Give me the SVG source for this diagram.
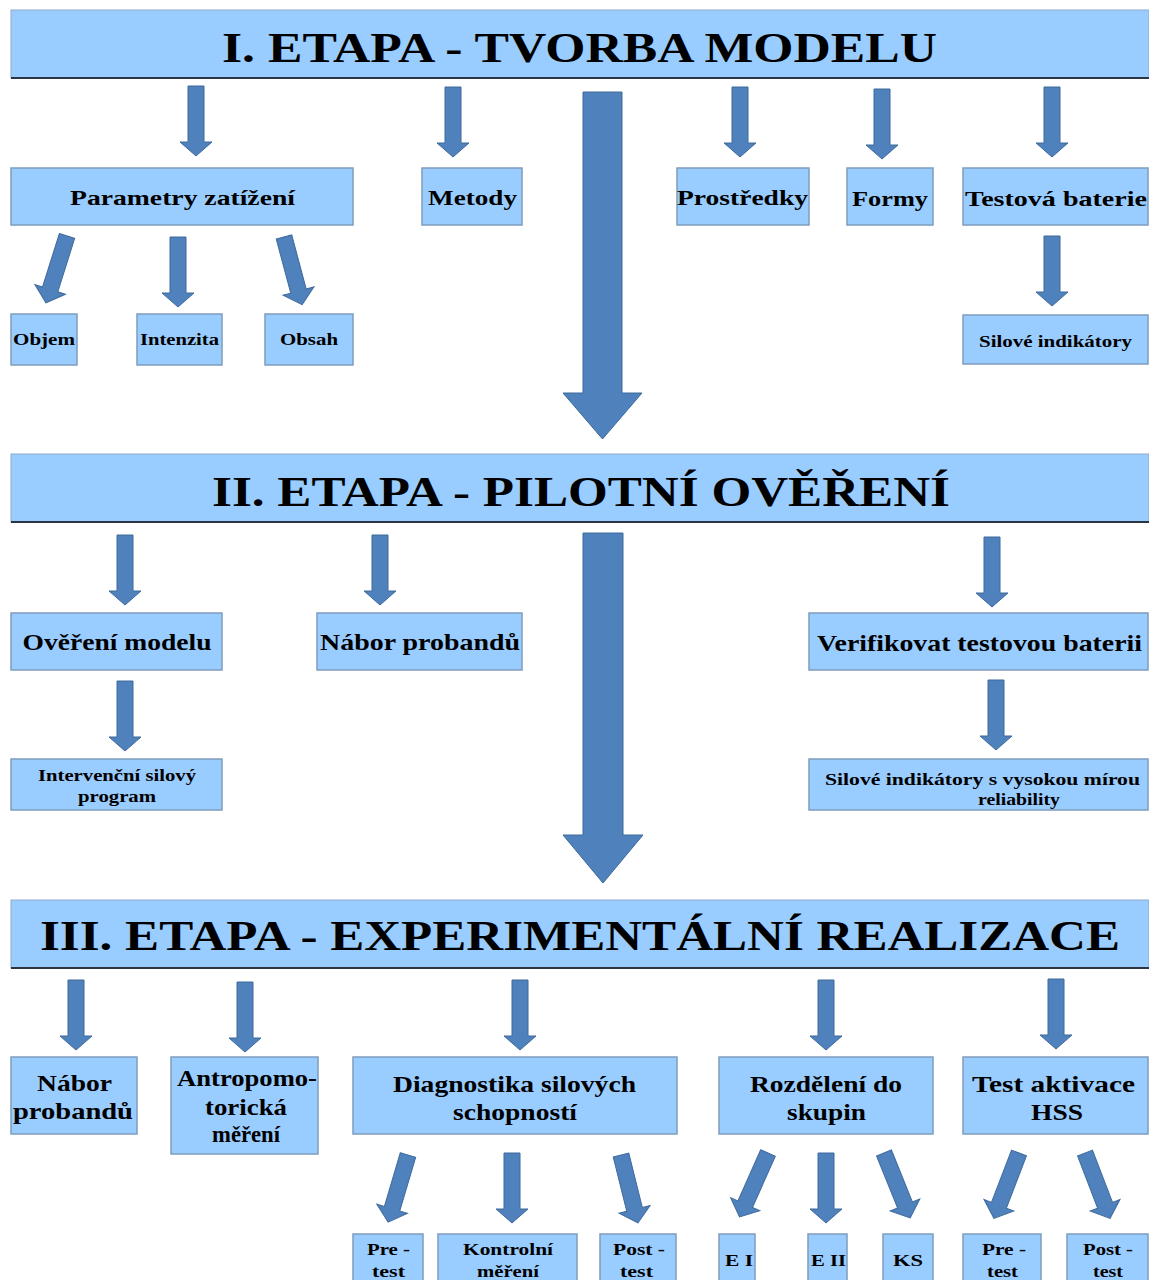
<svg xmlns="http://www.w3.org/2000/svg" xmlns:xlink="http://www.w3.org/1999/xlink" width="1149" height="1280" viewBox="0 0 1149 1280">
<style>
.bx{fill:#99CCFF;stroke:#7F9CBC;stroke-width:1.5}
.hd{fill:#99CCFF;stroke:#8FAACB;stroke-width:1}
.hl{stroke:#2B3440;stroke-width:2}
.ar{fill:#4F81BD;stroke:#3F6A9C;stroke-width:1}
text{font-family:"Liberation Serif","Times New Roman",serif;font-weight:bold;fill:#000;text-anchor:middle}
.h{font-size:42px}
.l{font-size:21px}
.m{font-size:23px}
.n{font-size:24px}
.s{font-size:16px}
.t{font-size:17px}
</style>
<defs>
<path id="a" d="M-8 0H8V56H16L0 70L-16 56H-8Z"/>
</defs>
<rect width="1149" height="1280" fill="#fff"/>

<g id="connectors">
<path class="ar" d="M583 92H622V393H642L602.5 439L563 393H583Z"/>
<path class="ar" d="M583 533H623V835H643L603 883L563 835H583Z"/>
<use class="ar" href="#a" transform="translate(196,86)"/>
<use class="ar" href="#a" transform="translate(453,87)"/>
<use class="ar" href="#a" transform="translate(740,87)"/>
<use class="ar" href="#a" transform="translate(882,89)"/>
<use class="ar" href="#a" transform="translate(1052,87)"/>
<use class="ar" href="#a" transform="translate(1052,236)"/>
<use class="ar" href="#a" transform="translate(67,236) rotate(17.5)"/>
<use class="ar" href="#a" transform="translate(178,237)"/>
<use class="ar" href="#a" transform="translate(284,237) rotate(-15)"/>
<use class="ar" href="#a" transform="translate(125,535)"/>
<use class="ar" href="#a" transform="translate(380,535)"/>
<use class="ar" href="#a" transform="translate(992,537)"/>
<use class="ar" href="#a" transform="translate(125,681)"/>
<use class="ar" href="#a" transform="translate(996,680)"/>
<use class="ar" href="#a" transform="translate(76,980)"/>
<use class="ar" href="#a" transform="translate(245,982)"/>
<use class="ar" href="#a" transform="translate(520,980)"/>
<use class="ar" href="#a" transform="translate(826,980)"/>
<use class="ar" href="#a" transform="translate(1056,979)"/>
<use class="ar" href="#a" transform="translate(408,1155) rotate(16.5)"/>
<use class="ar" href="#a" transform="translate(512,1153)"/>
<use class="ar" href="#a" transform="translate(621,1155) rotate(-14)"/>
<use class="ar" href="#a" transform="translate(768,1153) rotate(24)"/>
<use class="ar" href="#a" transform="translate(826,1153)"/>
<use class="ar" href="#a" transform="translate(884,1153) rotate(-22)"/>
<use class="ar" href="#a" transform="translate(1019,1153) rotate(21)"/>
<use class="ar" href="#a" transform="translate(1085,1153) rotate(-21)"/>
</g>

<g id="etapa1">
<rect class="hd" x="11" y="10" width="1138" height="68"/>
<line class="hl" x1="11" y1="78" x2="1149" y2="78"/>
<text class="h" x="579.5" y="62" textLength="715" lengthAdjust="spacingAndGlyphs">I. ETAPA - TVORBA MODELU</text>
</g>
<g id="parametry"><rect class="bx" x="11" y="168" width="342" height="57"/><text class="l" x="182.5" y="205" textLength="225" lengthAdjust="spacingAndGlyphs">Parametry zatížení</text></g>
<g id="metody"><rect class="bx" x="422" y="168" width="100" height="57"/><text class="l" x="472.5" y="205" textLength="89" lengthAdjust="spacingAndGlyphs">Metody</text></g>
<g id="prostredky"><rect class="bx" x="677" y="168" width="132" height="57"/><text class="l" x="742.5" y="205" textLength="131" lengthAdjust="spacingAndGlyphs">Prostředky</text></g>
<g id="formy"><rect class="bx" x="847" y="168" width="86" height="57"/><text class="l" x="890" y="206" textLength="76" lengthAdjust="spacingAndGlyphs">Formy</text></g>
<g id="testova"><rect class="bx" x="963" y="168" width="185" height="57"/><text class="l" x="1056" y="206" textLength="182" lengthAdjust="spacingAndGlyphs">Testová baterie</text></g>
<g id="objem"><rect class="bx" x="11" y="314" width="66" height="51"/><text class="s" x="44" y="345" textLength="62" lengthAdjust="spacingAndGlyphs">Objem</text></g>
<g id="intenzita"><rect class="bx" x="137" y="314" width="85" height="51"/><text class="s" x="179.5" y="345" textLength="79" lengthAdjust="spacingAndGlyphs">Intenzita</text></g>
<g id="obsah"><rect class="bx" x="265" y="314" width="88" height="51"/><text class="s" x="309" y="345" textLength="58" lengthAdjust="spacingAndGlyphs">Obsah</text></g>
<g id="silove1"><rect class="bx" x="963" y="315" width="185" height="49"/><text class="s" x="1055.5" y="347" textLength="153" lengthAdjust="spacingAndGlyphs">Silové indikátory</text></g>

<g id="etapa2">
<rect class="hd" x="11" y="454" width="1138" height="68"/>
<line class="hl" x1="11" y1="522" x2="1149" y2="522"/>
<text class="h" x="581" y="506" textLength="738" lengthAdjust="spacingAndGlyphs">II. ETAPA - PILOTNÍ OVĚŘENÍ</text>
</g>
<g id="overeni"><rect class="bx" x="11" y="613" width="211" height="57"/><text class="m" x="117" y="650" textLength="189" lengthAdjust="spacingAndGlyphs">Ověření modelu</text></g>
<g id="nabor1"><rect class="bx" x="317" y="613" width="205" height="57"/><text class="m" x="420" y="650" textLength="200" lengthAdjust="spacingAndGlyphs">Nábor probandů</text></g>
<g id="verifikovat"><rect class="bx" x="809" y="613" width="339" height="57"/><text class="m" x="979.5" y="651" textLength="325" lengthAdjust="spacingAndGlyphs">Verifikovat testovou baterii</text></g>
<g id="intervencni"><rect class="bx" x="11" y="759" width="211" height="51"/><text class="s" x="117" y="781" textLength="158" lengthAdjust="spacingAndGlyphs">Intervenční silový</text><text class="s" x="117" y="802" textLength="78" lengthAdjust="spacingAndGlyphs">program</text></g>
<g id="silove2"><rect class="bx" x="809" y="759" width="339" height="51"/><text class="s" x="982.5" y="785" textLength="315" lengthAdjust="spacingAndGlyphs">Silové indikátory s vysokou mírou</text><text class="s" x="1019" y="805" textLength="82" lengthAdjust="spacingAndGlyphs">reliability</text></g>

<g id="etapa3">
<rect class="hd" x="11" y="900" width="1138" height="68"/>
<line class="hl" x1="11" y1="968" x2="1149" y2="968"/>
<text class="h" x="580" y="950" textLength="1080" lengthAdjust="spacingAndGlyphs">III. ETAPA - EXPERIMENTÁLNÍ REALIZACE</text>
</g>
<g id="nabor2"><rect class="bx" x="11" y="1057" width="126" height="77"/><text class="n" x="74.5" y="1091" textLength="75" lengthAdjust="spacingAndGlyphs">Nábor</text><text class="n" x="73" y="1119" textLength="120" lengthAdjust="spacingAndGlyphs">probandů</text></g>
<g id="antropo"><rect class="bx" x="171" y="1057" width="147" height="97"/><text class="n" x="247" y="1086" textLength="140" lengthAdjust="spacingAndGlyphs">Antropomo-</text><text class="n" x="246" y="1115" textLength="82" lengthAdjust="spacingAndGlyphs">torická</text><text class="n" x="246" y="1142" textLength="68" lengthAdjust="spacingAndGlyphs">měření</text></g>
<g id="diagnostika"><rect class="bx" x="353" y="1057" width="324" height="77"/><text class="n" x="514.5" y="1092" textLength="243" lengthAdjust="spacingAndGlyphs">Diagnostika silových</text><text class="n" x="515" y="1120" textLength="124" lengthAdjust="spacingAndGlyphs">schopností</text></g>
<g id="rozdeleni"><rect class="bx" x="719" y="1057" width="214" height="77"/><text class="n" x="826" y="1092" textLength="152" lengthAdjust="spacingAndGlyphs">Rozdělení do</text><text class="n" x="826.5" y="1120" textLength="79" lengthAdjust="spacingAndGlyphs">skupin</text></g>
<g id="hss"><rect class="bx" x="963" y="1057" width="185" height="77"/><text class="n" x="1053.5" y="1092" textLength="163" lengthAdjust="spacingAndGlyphs">Test aktivace</text><text class="n" x="1057" y="1120" textLength="52" lengthAdjust="spacingAndGlyphs">HSS</text></g>

<g id="pretest1"><rect class="bx" x="353" y="1234" width="70" height="50"/><text class="t" x="388.5" y="1255" textLength="43" lengthAdjust="spacingAndGlyphs">Pre -</text><text class="t" x="388.5" y="1277" textLength="33" lengthAdjust="spacingAndGlyphs">test</text></g>
<g id="kontrolni"><rect class="bx" x="438" y="1234" width="139" height="50"/><text class="t" x="508" y="1255" textLength="90" lengthAdjust="spacingAndGlyphs">Kontrolní</text><text class="t" x="508" y="1277" textLength="62" lengthAdjust="spacingAndGlyphs">měření</text></g>
<g id="posttest1"><rect class="bx" x="600" y="1234" width="76" height="50"/><text class="t" x="639" y="1255" textLength="52" lengthAdjust="spacingAndGlyphs">Post -</text><text class="t" x="636.5" y="1277" textLength="33" lengthAdjust="spacingAndGlyphs">test</text></g>
<g id="e1"><rect class="bx" x="719" y="1234" width="36" height="50"/><text class="t" x="739" y="1266" textLength="28" lengthAdjust="spacingAndGlyphs">E I</text></g>
<g id="e2"><rect class="bx" x="808" y="1234" width="39" height="50"/><text class="t" x="828.5" y="1266" textLength="35" lengthAdjust="spacingAndGlyphs">E II</text></g>
<g id="ks"><rect class="bx" x="883" y="1234" width="50" height="50"/><text class="t" x="908" y="1266" textLength="30" lengthAdjust="spacingAndGlyphs">KS</text></g>
<g id="pretest2"><rect class="bx" x="963" y="1234" width="78" height="50"/><text class="t" x="1004" y="1255" textLength="44" lengthAdjust="spacingAndGlyphs">Pre -</text><text class="t" x="1002.5" y="1277" textLength="31" lengthAdjust="spacingAndGlyphs">test</text></g>
<g id="posttest2"><rect class="bx" x="1067" y="1234" width="81" height="50"/><text class="t" x="1108" y="1255" textLength="50" lengthAdjust="spacingAndGlyphs">Post -</text><text class="t" x="1108" y="1277" textLength="30" lengthAdjust="spacingAndGlyphs">test</text></g>
</svg>
